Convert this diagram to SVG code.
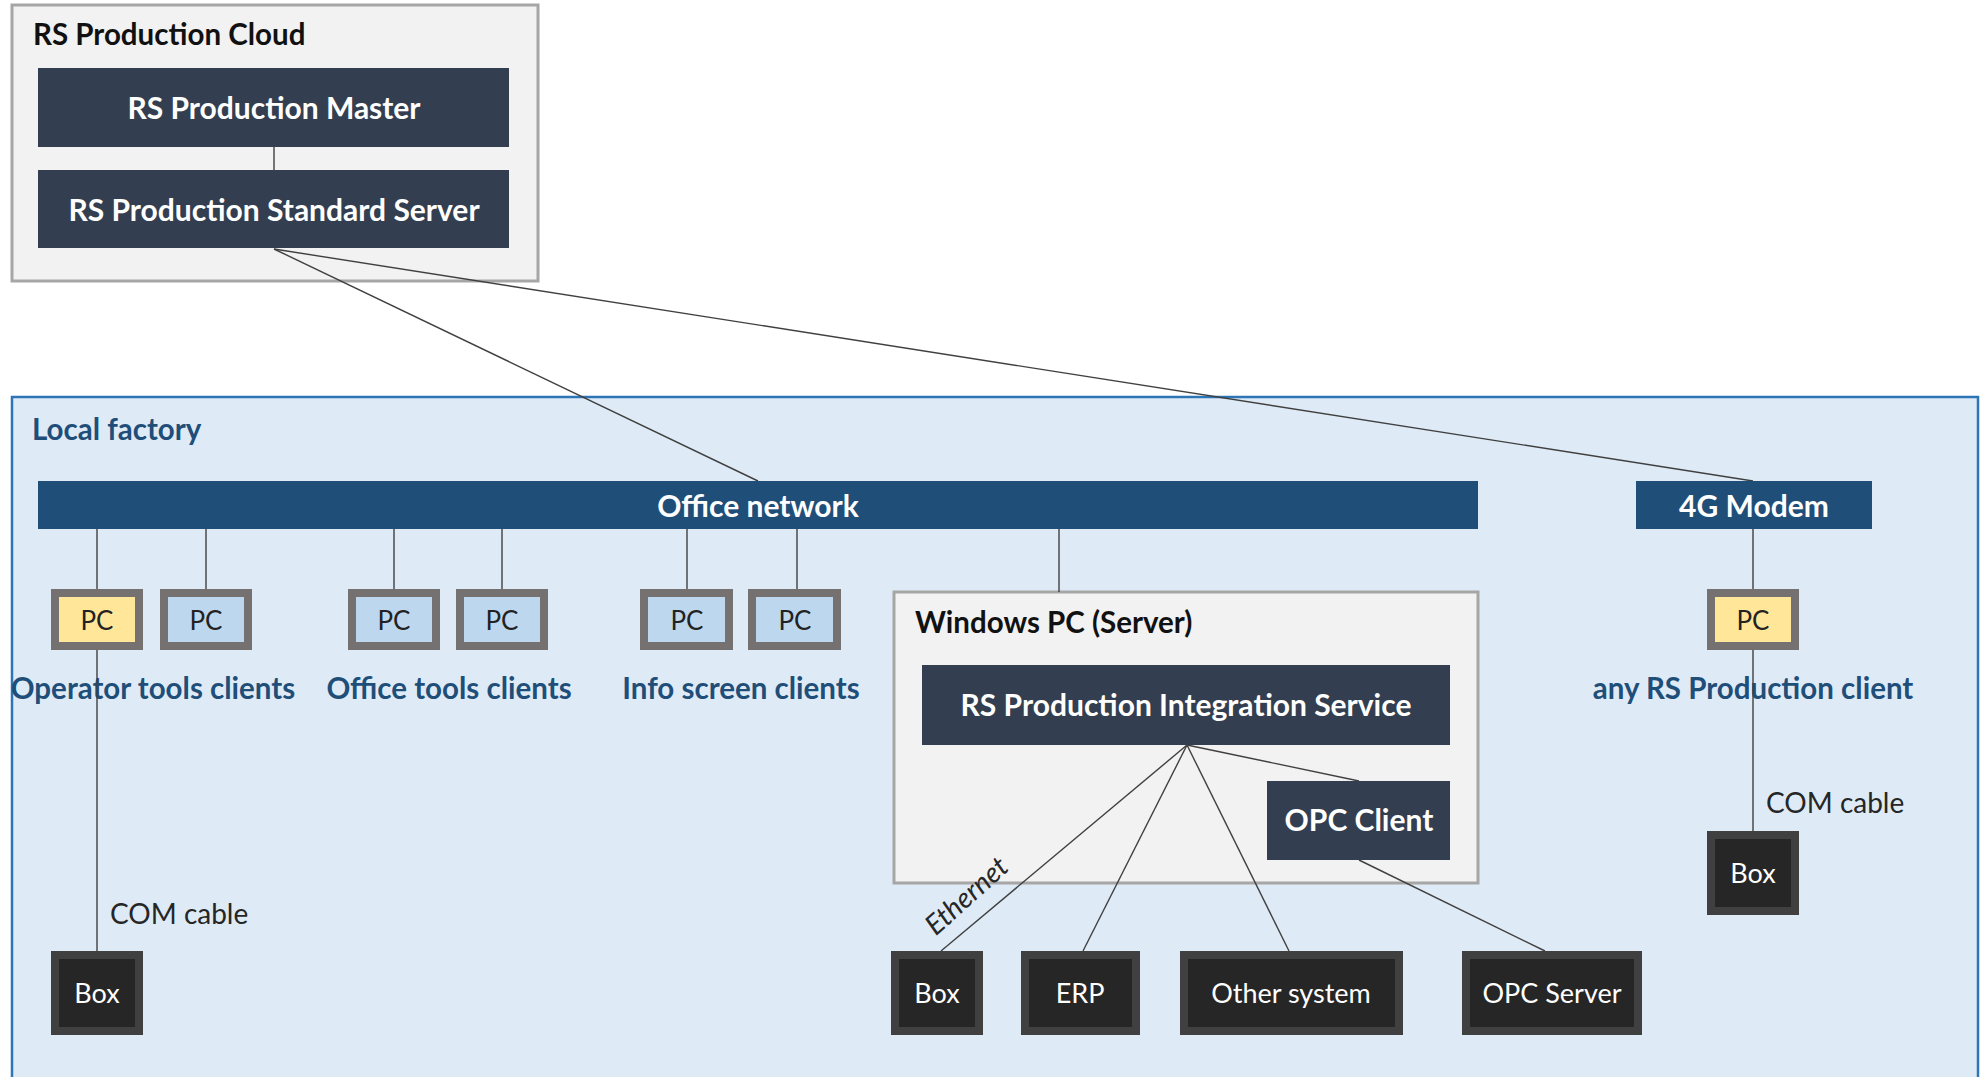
<svg xmlns="http://www.w3.org/2000/svg" width="1987" height="1077" viewBox="0 0 1987 1077">
<style>
text{font-family:Lato,"Open Sans","Liberation Sans",sans-serif}
.container{fill:#f2f2f2;stroke:#a6a6a6;stroke-width:3}
.dark{fill:#333f50}
.net{fill:#1f4e79}
.wt{fill:#fff;font-weight:bold;font-size:30px;text-anchor:middle}
.pcy{fill:#ffe699;stroke:#767171;stroke-width:8}
.pcb{fill:#bdd7ee;stroke:#767171;stroke-width:8}
.pct{fill:#222;font-size:26px;text-anchor:middle}
.box{fill:#262626;stroke:#404040;stroke-width:8}
.boxt{fill:#fff;font-size:27px;text-anchor:middle}
.lbl{fill:#1f4e79;font-weight:bold;font-size:29.5px;text-anchor:middle}
.cap{fill:#262626;font-size:28px}
.ln{stroke:#404040;stroke-width:1.4;fill:none}
</style>
<rect id="local-factory" x="12" y="397" width="1966" height="700" fill="#deebf7" stroke="#2e75b6" stroke-width="2.5"/>
<text x="32" y="440" fill="#1f4e79" font-weight="bold" font-size="29.5px">Local factory</text>
<g id="cloud">
<rect class="container" x="12" y="5" width="526" height="276"/>
<text x="33" y="45" fill="#111" font-weight="bold" font-size="29.5px">RS Production Cloud</text>
</g>
<g id="windows-pc">
<rect class="container" x="894" y="592" width="584" height="291"/>
<text x="915" y="633" fill="#111" font-weight="bold" font-size="29.5px">Windows PC (Server)</text>
</g>
<g id="client-labels">
<text class="lbl" x="153" y="699">Operator tools clients</text>
<text class="lbl" x="449" y="699">Office tools clients</text>
<text class="lbl" x="741" y="699">Info screen clients</text>
<text class="lbl" x="1753" y="699">any RS Production client</text>
</g>
<g id="connectors">
<line class="ln" x1="274" y1="147" x2="274" y2="170"/>
<line class="ln" x1="274" y1="249" x2="758" y2="481"/>
<line class="ln" x1="274" y1="249" x2="1753" y2="481"/>
<line class="ln" x1="97" y1="529" x2="97" y2="589"/>
<line class="ln" x1="206" y1="529" x2="206" y2="589"/>
<line class="ln" x1="394" y1="529" x2="394" y2="589"/>
<line class="ln" x1="502" y1="529" x2="502" y2="589"/>
<line class="ln" x1="687" y1="529" x2="687" y2="589"/>
<line class="ln" x1="797" y1="529" x2="797" y2="589"/>
<line class="ln" x1="1059" y1="529" x2="1059" y2="592"/>
<line class="ln" x1="1753" y1="529" x2="1753" y2="589"/>
<line class="ln" x1="97" y1="650" x2="97" y2="951"/>
<line class="ln" x1="1753" y1="650" x2="1753" y2="831"/>
<line class="ln" x1="1187" y1="745" x2="1359" y2="781"/>
<line class="ln" x1="1187" y1="745" x2="941" y2="951"/>
<line class="ln" x1="1187" y1="745" x2="1083" y2="951"/>
<line class="ln" x1="1187" y1="745" x2="1289" y2="951"/>
<line class="ln" x1="1359" y1="860" x2="1545" y2="951"/>
<text transform="translate(973,903) rotate(-42)" fill="#262626" font-size="28px" font-style="italic" text-anchor="middle">Ethernet</text>
<text class="cap" x="110" y="924">COM cable</text>
<text class="cap" x="1766" y="813">COM cable</text>
</g>
<g id="master"><rect class="dark" x="38" y="68" width="471" height="79"/><text class="wt" x="274" y="119">RS Production Master</text></g>
<g id="standard-server"><rect class="dark" x="38" y="170" width="471" height="78"/><text class="wt" x="274" y="221">RS Production Standard Server</text></g>
<g id="office-network"><rect class="net" x="38" y="481" width="1440" height="48"/><text class="wt" x="758" y="517">Office network</text></g>
<g id="modem"><rect class="net" x="1636" y="481" width="236" height="48"/><text class="wt" x="1754" y="517">4G Modem</text></g>
<g id="pc1"><rect class="pcy" x="55" y="593" width="84" height="53"/><text class="pct" x="97" y="630">PC</text></g>
<g id="pc2"><rect class="pcb" x="164" y="593" width="84" height="53"/><text class="pct" x="206" y="630">PC</text></g>
<g id="pc3"><rect class="pcb" x="352" y="593" width="84" height="53"/><text class="pct" x="394" y="630">PC</text></g>
<g id="pc4"><rect class="pcb" x="460" y="593" width="84" height="53"/><text class="pct" x="502" y="630">PC</text></g>
<g id="pc5"><rect class="pcb" x="644" y="593" width="85" height="53"/><text class="pct" x="687" y="630">PC</text></g>
<g id="pc6"><rect class="pcb" x="752" y="593" width="85" height="53"/><text class="pct" x="795" y="630">PC</text></g>
<g id="pc7"><rect class="pcy" x="1711" y="593" width="84" height="53"/><text class="pct" x="1753" y="630">PC</text></g>
<g id="integration-service"><rect class="dark" x="922" y="665" width="528" height="80"/><text class="wt" x="1186" y="716">RS Production Integration Service</text></g>
<g id="opc-client"><rect class="dark" x="1267" y="781" width="183" height="79"/><text class="wt" x="1359" y="831">OPC Client</text></g>
<g id="box-left"><rect class="box" x="55" y="955" width="84" height="76"/><text class="boxt" x="97" y="1003">Box</text></g>
<g id="box-ethernet"><rect class="box" x="895" y="955" width="84" height="76"/><text class="boxt" x="937" y="1003">Box</text></g>
<g id="erp"><rect class="box" x="1025" y="955" width="111" height="76"/><text class="boxt" x="1080" y="1003">ERP</text></g>
<g id="other-system"><rect class="box" x="1184" y="955" width="215" height="76"/><text class="boxt" x="1291" y="1003">Other system</text></g>
<g id="opc-server"><rect class="box" x="1466" y="955" width="172" height="76"/><text class="boxt" x="1552" y="1003">OPC Server</text></g>
<g id="box-right"><rect class="box" x="1711" y="835" width="84" height="76"/><text class="boxt" x="1753" y="883">Box</text></g>
</svg>
